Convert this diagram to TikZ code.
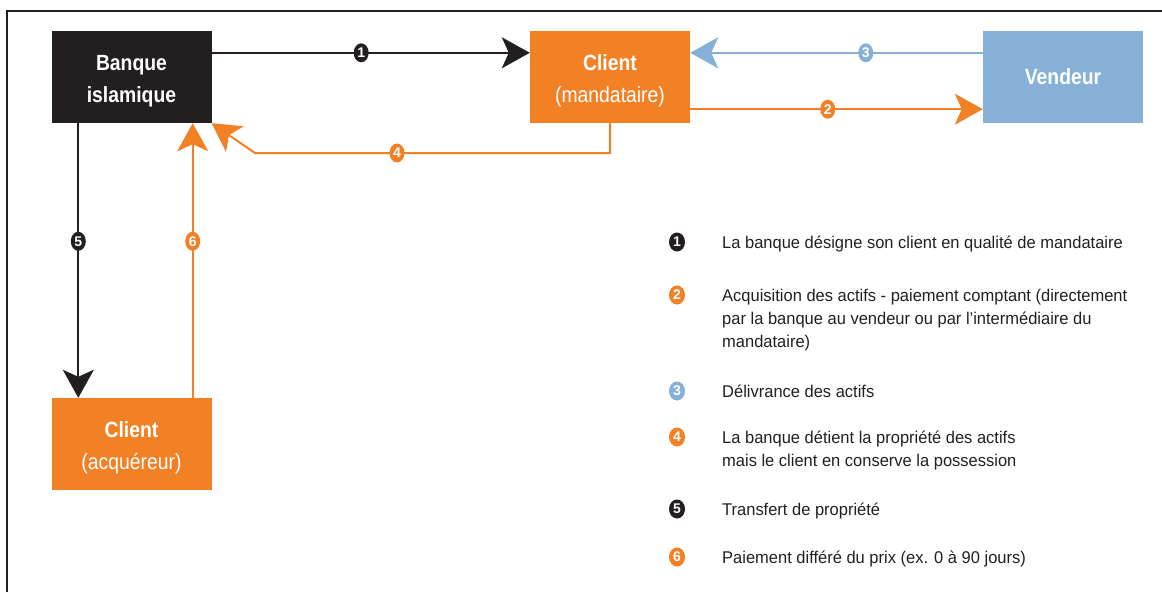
\documentclass[tikz,border=0pt]{standalone}
\usepackage{fontspec}
\setmainfont{Liberation Sans}
\newfontfamily\boxfont[FakeStretch=0.88]{Liberation Sans}
\newfontfamily\legfont[FakeStretch=0.97]{Liberation Sans}
\usetikzlibrary{arrows.meta,shapes.geometric,calc}
\definecolor{ink}{HTML}{231F20}
\definecolor{orng}{HTML}{F28126}
\definecolor{skyb}{HTML}{86B0D8}
% taller first line, so two-line box texts sit a little lower
\newcommand{\toproom}{\rule{0pt}{24pt}}

\begin{document}
\begin{tikzpicture}[x=1pt,y=-1pt,
  party/.style={minimum width=160pt, minimum height=92pt, inner sep=0pt,
    align=center, text=white, font=\boxfont\fontsize{22}{32}\selectfont},
  flow/.style={line width=2pt, -{Stealth[length=28pt,width=31pt,inset=7pt]}},
  numlab/.style={ellipse, minimum width=15pt, minimum height=19pt, inner sep=0pt,
    text=white, font=\bfseries\fontsize{14}{14}\selectfont},
  legnum/.style={numlab, minimum width=16pt, minimum height=19pt},
  legtext/.style={anchor=base west, align=left, text=ink, inner sep=0pt,
    font=\legfont\fontsize{17}{23}\selectfont},
]
\useasboundingbox (0,0) rectangle (1162,592);

% frame
\draw[line width=2pt, ink] (7,592) -- (7,11) -- (1162,11);

% parties
\node[party, fill=ink]  (bank) at (131.5,77) {\toproom\bfseries Banque\\\bfseries islamique};
\node[party, fill=orng] (cm)   at (610,77)   {\toproom\bfseries Client\\(mandataire)};
\node[party, fill=skyb] (vend) at (1063,77)  {\bfseries Vendeur};
\node[party, fill=orng] (ca)   at (131.5,444) {\toproom\bfseries Client\\(acquéreur)};

% flows
\draw[flow, ink] ($(bank.north east)+(0,22)$) --
  node[numlab, fill=ink, pos=0.47] {1} ($(cm.north west)+(0,22)$);
\draw[flow, skyb] ($(vend.north west)+(0,22)$) --
  node[numlab, fill=skyb, pos=0.40] {3} ($(cm.north east)+(0,22)$);
\draw[flow, orng] ($(cm.south east)+(0,-14)$) --
  node[numlab, fill=orng, pos=0.47] {2} ($(vend.south west)+(0,-14)$);
\coordinate (bend4) at (255,153);
\draw[flow, orng] (cm.south) |- node[numlab, fill=orng, pos=0.80] {4} (bend4)
  -- (bank.south east);
\draw[flow, ink] ($(bank.south west)+(27,0)$) --
  node[numlab, fill=ink, pos=0.43] {5} ($(ca.north west)+(27,0)$);
\draw[flow, orng] ($(ca.north east)+(-19,0)$) --
  node[numlab, fill=orng, pos=0.57] {6} ($(bank.south east)+(-19,0)$);

% legend (base anchor of a multi-line text is its last baseline)
\node[legnum, fill=ink]  (n1) at (677,242) {1};
\node[legtext] (t1) at (722,248) {La banque désigne son client en qualité de mandataire};
\node[legnum, fill=orng] (n2) at (677,295) {2};
\node[legtext] (t2) at (722,347) {Acquisition des actifs - paiement comptant (directement\\par la banque au vendeur ou par l’intermédiaire du\\mandataire)};
\node[legnum, fill=skyb] (n3) at (677,391) {3};
\node[legtext] (t3) at (722,397) {Délivrance des actifs};
\node[legnum, fill=orng] (n4) at (677,437) {4};
\node[legtext] (t4) at (722,466) {La banque détient la propriété des actifs\\mais le client en conserve la possession};
\node[legnum, fill=ink]  (n5) at (677,509) {5};
\node[legtext] (t5) at (722,515) {Transfert de propriété};
\node[legnum, fill=orng] (n6) at (677,557) {6};
\node[legtext] (t6) at (722,563) {Paiement différé du prix (ex. 0 à 90 jours)};
\end{tikzpicture}
\end{document}
